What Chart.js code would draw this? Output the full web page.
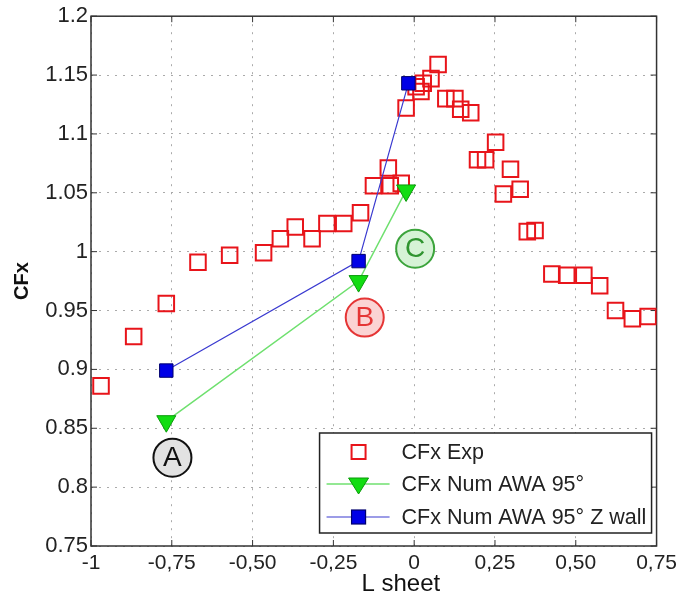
<!DOCTYPE html>
<html>
<head>
<meta charset="utf-8">
<script src="https://cdn.jsdelivr.net/npm/chart.js@4.4.1/dist/chart.umd.min.js"></script>
<style>
html, body { margin: 0; padding: 0; background: #fff; }
canvas { display: block; }
</style>
</head>
<body>
<canvas id="cfx" width="682" height="597"></canvas>
<script>
// experimental points (L sheet, CFx)
var expX = [-0.969, -0.868, -0.767, -0.669, -0.571, -0.466, -0.414, -0.368, -0.316, -0.270,
            -0.218, -0.166, -0.126, -0.080, -0.074, -0.040, -0.025, 0.006, 0.021, 0.028,
            0.052, 0.074, 0.098, 0.126, 0.144, 0.175, 0.196, 0.221, 0.252, 0.276,
            0.298, 0.328, 0.350, 0.374, 0.426, 0.472, 0.525, 0.574, 0.623, 0.675, 0.724];
var expY = [0.886, 0.928, 0.956, 0.991, 0.997, 0.999, 1.011, 1.021, 1.011, 1.024,
            1.024, 1.033, 1.056, 1.071, 1.056, 1.058, 1.122, 1.140, 1.136, 1.143,
            1.147, 1.159, 1.130, 1.130, 1.121, 1.118, 1.078, 1.078, 1.093, 1.049,
            1.070, 1.053, 1.017, 1.018, 0.981, 0.980, 0.980, 0.971, 0.950, 0.943, 0.945];

var numX = [-0.767, -0.172, -0.025];
var numY = [0.856, 0.975, 1.052];

var wallX = [-0.767, -0.172, -0.018];
var wallY = [0.899, 0.992, 1.143];

var xTickLabels = ['-1', '-0,75', '-0,50', '-0,25', '0', '0,25', '0,50', '0,75'];
var yTickLabels = ['0.75', '0.8', '0.85', '0.9', '0.95', '1', '1.05', '1.1', '1.15', '1.2'];

var seriesNames = ['CFx Exp', 'CFx Num AWA 95\u00b0', 'CFx Num AWA 95\u00b0 Z wall'];
var xTitle = 'L sheet';

// circled case labels
var caseNames = ['A', 'B', 'C'];
var caseX = [-0.748, -0.153, 0.003];
var caseY = [0.825, 0.944, 1.0025];

var FONT = '"Liberation Sans", Arial, sans-serif';

function pts(xs, ys) {
    return xs.map(function (x, i) { return { x: x, y: ys[i] }; });
}

var frame = {
    id: 'frame',
    beforeDatasetsDraw: function (chart) {
        var c = chart.ctx, a = chart.chartArea;
        var xs = chart.scales.x, ys = chart.scales.y;
        c.save();
        c.strokeStyle = '#333';
        c.lineWidth = 1.5;
        c.strokeRect(a.left, a.top, a.right - a.left, a.bottom - a.top);
        c.lineWidth = 1;
        c.beginPath();
        xs.ticks.forEach(function (t) {
            var px = xs.getPixelForValue(t.value);
            c.moveTo(px, a.bottom); c.lineTo(px, a.bottom - 6);
            c.moveTo(px, a.top); c.lineTo(px, a.top + 6);
        });
        ys.ticks.forEach(function (t) {
            var py = ys.getPixelForValue(t.value);
            c.moveTo(a.left, py); c.lineTo(a.left + 6, py);
            c.moveTo(a.right, py); c.lineTo(a.right - 6, py);
        });
        c.stroke();
        // x axis title, sits a little right of centre like the original
        c.fillStyle = '#111';
        c.font = '24px ' + FONT;
        c.textAlign = 'center';
        c.textBaseline = 'middle';
        c.fillText(xTitle, (a.left + a.right) / 2 + 27, a.bottom + 38);
        c.restore();
    }
};

var circles = {
    id: 'circles',
    afterDatasetsDraw: function (chart) {
        var c = chart.ctx;
        var fills = ['#e2e2e2', '#fbd3d3', '#d6f3d6'];
        var edges = ['#111', '#e53535', '#3ca43c'];
        var texts = ['#111', '#e53535', '#2f942f'];
        c.save();
        caseNames.forEach(function (n, i) {
            var px = chart.scales.x.getPixelForValue(caseX[i]);
            var py = chart.scales.y.getPixelForValue(caseY[i]);
            c.beginPath();
            c.arc(px, py, 19, 0, Math.PI * 2);
            c.fillStyle = fills[i];
            c.fill();
            c.lineWidth = 2;
            c.strokeStyle = edges[i];
            c.stroke();
            c.fillStyle = texts[i];
            c.font = '28px ' + FONT;
            c.textAlign = 'center';
            c.textBaseline = 'middle';
            c.fillText(n, px, py + 1);
        });
        c.restore();
    }
};

var legendBox = {
    id: 'legendBox',
    afterDraw: function (chart) {
        var c = chart.ctx, a = chart.chartArea;
        var w = 332, h = 100;
        var left = a.right - 5 - w, top = a.bottom - 13 - h;
        c.save();
        c.fillStyle = '#fff';
        c.fillRect(left, top, w, h);
        c.strokeStyle = '#222';
        c.lineWidth = 1.5;
        c.strokeRect(left, top, w, h);
        var rows = [top + 19, top + 51, top + 84];
        var sx = left + 39;
        // exp: hollow square
        c.strokeStyle = '#e8141a';
        c.lineWidth = 2;
        c.strokeRect(sx - 7, rows[0] - 7, 14, 14);
        // num: line + down triangle
        c.strokeStyle = '#6fe06f';
        c.lineWidth = 1.5;
        c.beginPath(); c.moveTo(left + 7, rows[1]); c.lineTo(left + 70, rows[1]); c.stroke();
        c.beginPath();
        c.moveTo(sx - 10, rows[1] - 6);
        c.lineTo(sx + 10, rows[1] - 6);
        c.lineTo(sx, rows[1] + 10);
        c.closePath();
        c.fillStyle = '#12dd12';
        c.fill();
        c.strokeStyle = '#0a9a0a';
        c.lineWidth = 1;
        c.stroke();
        // z wall: line + filled square
        c.strokeStyle = '#3a3ad0';
        c.lineWidth = 1.2;
        c.beginPath(); c.moveTo(left + 7, rows[2]); c.lineTo(left + 70, rows[2]); c.stroke();
        c.fillStyle = '#0000e6';
        c.fillRect(sx - 7, rows[2] - 7, 14, 14);
        c.strokeStyle = '#00006e';
        c.strokeRect(sx - 7, rows[2] - 7, 14, 14);
        c.fillStyle = '#222';
        c.font = '21.5px ' + FONT;
        c.textAlign = 'left';
        c.textBaseline = 'middle';
        seriesNames.forEach(function (s, i) { c.fillText(s, left + 82, rows[i] + 1); });
        c.restore();
    }
};

var ctx = document.getElementById('cfx').getContext('2d');
var chart = new Chart(ctx, {
    type: 'scatter',
    data: {
        datasets: [{
            label: seriesNames[0],
            data: pts(expX, expY),
            showLine: false,
            pointStyle: 'rect',
            pointRadius: 11,
            pointBorderWidth: 2,
            pointBorderColor: '#e8141a',
            pointBackgroundColor: 'rgba(0,0,0,0)',
            order: 3
        }, {
            label: seriesNames[1],
            data: pts(numX, numY),
            showLine: true,
            borderColor: '#6fe06f',
            borderWidth: 1.5,
            pointStyle: 'triangle',
            pointRotation: 180,
            pointRadius: 11,
            pointBorderWidth: 1,
            pointBorderColor: '#0a9a0a',
            pointBackgroundColor: '#12dd12',
            order: 2
        }, {
            label: seriesNames[2],
            data: pts(wallX, wallY),
            showLine: true,
            borderColor: '#3a3ad0',
            borderWidth: 1.2,
            pointStyle: 'rect',
            pointRadius: 9.5,
            pointBorderWidth: 1,
            pointBorderColor: '#00006e',
            pointBackgroundColor: '#0000e6',
            order: 1
        }]
    },
    options: {
        responsive: false,
        animation: false,
        devicePixelRatio: 1,
        layout: { padding: { top: 15, right: 22, left: 0, bottom: 0 } },
        plugins: {
            legend: { display: false },
            tooltip: { enabled: false }
        },
        scales: {
            x: {
                type: 'linear',
                min: -1,
                max: 0.75,
                afterFit: function (s) { s.height = 51; },
                grid: { color: '#aaa', lineWidth: 1, drawTicks: false },
                border: { display: false, dash: [2, 6] },
                ticks: {
                    stepSize: 0.25,
                    padding: 5,
                    color: '#222',
                    font: { family: FONT, size: 21 },
                    callback: function (v, i) { return xTickLabels[i]; }
                },
                title: { display: false }
            },
            y: {
                type: 'linear',
                min: 0.75,
                max: 1.2,
                afterFit: function (s) { s.width = 91; },
                grid: { color: '#aaa', lineWidth: 1, drawTicks: false },
                border: { display: false, dash: [2, 6] },
                ticks: {
                    stepSize: 0.05,
                    padding: 3,
                    color: '#222',
                    font: { family: FONT, size: 22 },
                    callback: function (v, i) { return yTickLabels[i]; }
                },
                title: {
                    display: true,
                    text: 'CFx',
                    color: '#111',
                    padding: { top: 10, bottom: 0 },
                    font: { family: FONT, size: 20, weight: 'bold' }
                }
            }
        }
    },
    plugins: [frame, circles, legendBox]
});
</script>
</body>
</html>
